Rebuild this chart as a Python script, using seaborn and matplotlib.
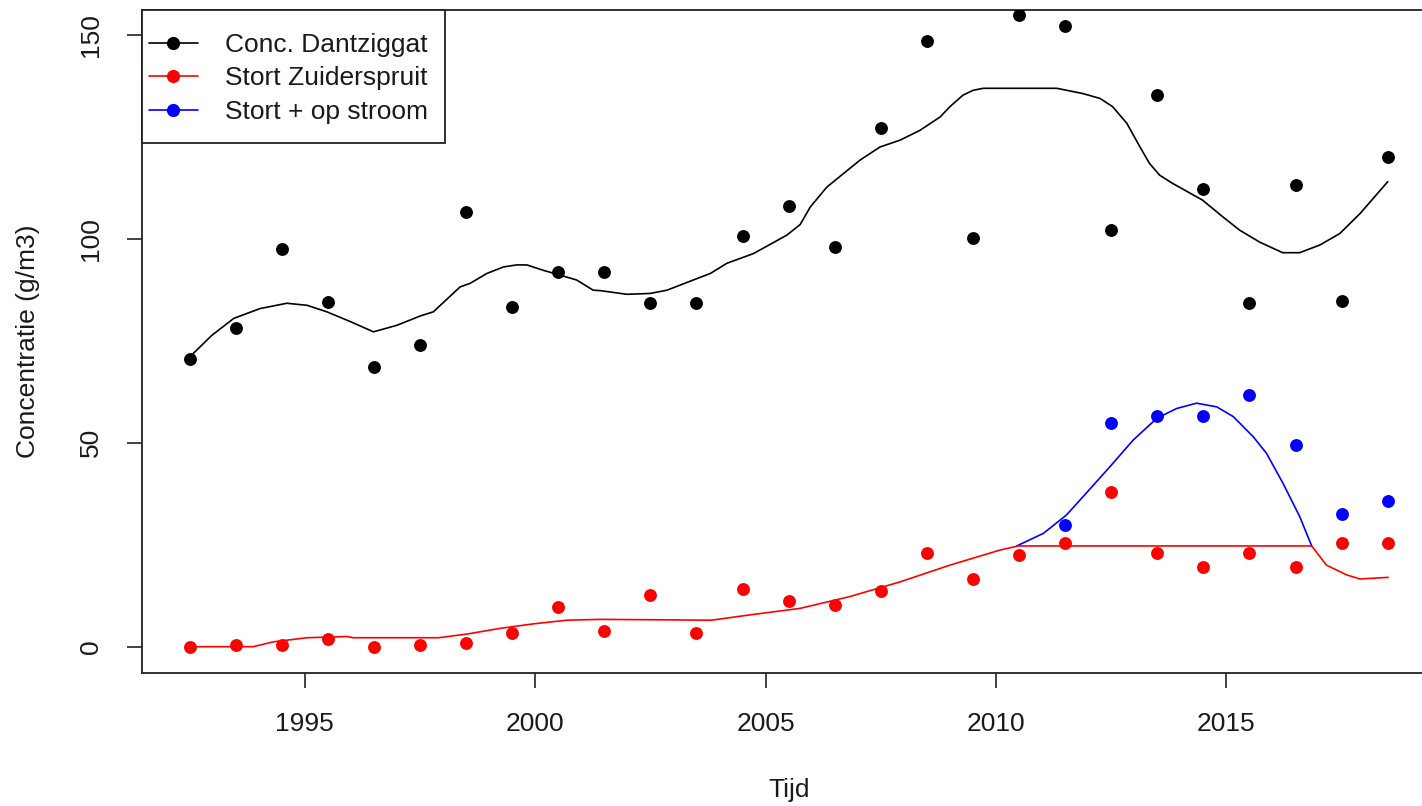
import numpy as np
import pandas as pd
import seaborn as sns
import matplotlib.pyplot as plt
from matplotlib.lines import Line2D
from matplotlib.patches import Rectangle

# ── Measured values ──────────────────────────────────────────────────────────
years = [1992.5, 1993.5, 1994.5, 1995.5, 1996.5, 1997.5, 1998.5, 1999.5,
         2000.5, 2001.5, 2002.5, 2003.5, 2004.5, 2005.5, 2006.5, 2007.5,
         2008.5, 2009.5, 2010.5, 2011.5, 2012.5, 2013.5, 2014.5, 2015.5,
         2016.5, 2017.5, 2018.5]
conc_dantziggat = [70.5, 78.2, 97.4, 84.6, 68.5, 73.9, 106.5, 83.4, 91.9, 91.9,
                   84.2, 84.2, 100.8, 108.0, 97.9, 127.2, 148.4, 100.3, 154.8,
                   152.2, 102.1, 135.2, 112.3, 84.2, 113.2, 84.7, 120.0]
stort_zuiderspruit = [0.0, 0.4, 0.4, 1.8, 0.0, 0.4, 0.8, 3.4, 9.8, 3.8, 12.7,
                      3.4, 14.1, 11.1, 10.2, 13.7, 23.0, 16.6, 22.6, 25.5, 37.9,
                      23.0, 19.6, 23.0, 19.6, 25.5, 25.5]
years_stroom = [2011.5, 2012.5, 2013.5, 2014.5, 2015.5, 2016.5, 2017.5, 2018.5]
stort_op_stroom = [29.9, 54.9, 56.5, 56.5, 61.8, 49.4, 32.5, 35.8]

# ── Smoothed curves ──────────────────────────────────────────────────────────
curve_black_x = [1992.50, 1992.98, 1993.46, 1994.03, 1994.61, 1995.05, 1995.48,
                 1995.99, 1996.49, 1997.00, 1997.51, 1997.79, 1998.37, 1998.59,
                 1998.95, 1999.31, 1999.60, 1999.82, 2000.17, 2000.54, 2000.90,
                 2001.26, 2001.41, 2001.99, 2002.49, 2002.86, 2003.43, 2003.80,
                 2004.16, 2004.74, 2005.46, 2005.75, 2005.97, 2006.33, 2006.69,
                 2007.05, 2007.48, 2007.92, 2008.35, 2008.79, 2009.00, 2009.28,
                 2009.50, 2009.72, 2011.32, 2011.89, 2012.26, 2012.53, 2012.84,
                 2013.12, 2013.33, 2013.55, 2013.83, 2014.48, 2014.92, 2015.29,
                 2015.72, 2016.22, 2016.59, 2017.03, 2017.46, 2017.90, 2018.50]
curve_black_y = [71.0, 76.3, 80.5, 82.9, 84.2, 83.7, 82.1,
                 79.7, 77.2, 78.8, 81.1, 82.1, 88.2, 89.1,
                 91.5, 93.1, 93.6, 93.6, 92.3, 91.1, 89.9,
                 87.4, 87.3, 86.4, 86.6, 87.4, 89.9, 91.5,
                 94.0, 96.4, 100.9, 103.5, 107.8, 112.7, 116.0,
                 119.3, 122.5, 124.2, 126.6, 129.9, 132.4, 135.2,
                 136.4, 136.9, 136.9, 135.6, 134.4, 132.4, 128.3,
                 122.6, 118.5, 115.6, 113.6, 109.5, 105.4, 102.1,
                 99.2, 96.6, 96.6, 98.5, 101.3, 106.2, 114.0]

curve_red_x = [1992.50, 1993.88, 1994.32, 1995.05, 1995.92, 1996.05, 1997.90,
               1998.52, 1999.24, 1999.96, 2000.69, 2001.41, 2003.83, 2004.66,
               2005.75, 2006.83, 2007.92, 2009.00, 2010.09, 2010.48, 2016.85,
               2017.17, 2017.61, 2017.90, 2018.51]
curve_red_y = [0.0, 0.0, 1.2, 2.2, 2.5, 2.2, 2.2,
               3.1, 4.5, 5.6, 6.5, 6.7, 6.5, 7.8,
               9.4, 12.3, 15.9, 20.0, 23.7, 24.7, 24.7,
               20.0, 17.6, 16.6, 17.0]

curve_blue_x = [2010.45, 2011.03, 2011.53, 2011.89, 2012.47, 2012.98, 2013.49,
                2013.92, 2014.35, 2014.79, 2015.15, 2015.58, 2015.87, 2016.23,
                2016.59, 2016.85]
curve_blue_y = [24.7, 27.8, 32.3, 36.8, 44.1, 50.7, 56.0,
                58.4, 59.7, 58.8, 56.4, 51.5, 47.4, 40.0,
                31.9, 24.7]

labels = ["Conc. Dantziggat", "Stort Zuiderspruit", "Stort + op stroom"]
colors = ["#000000", "#FF0000", "#0000FF"]

# ── Style ────────────────────────────────────────────────────────────────────
sns.set_theme(style="ticks")
plt.rcParams['font.family'] = ['Liberation Sans', 'DejaVu Sans']
fs = 19

fig = plt.figure(figsize=(14.22, 8.06), dpi=100)
ax = fig.add_axes([0.0996, 0.1654, 0.910, 0.8222])

dot = dict(s=86, linewidth=0, zorder=3)
sns.scatterplot(x=years, y=conc_dantziggat, color=colors[0], ax=ax, **dot)
sns.scatterplot(x=years, y=stort_zuiderspruit, color=colors[1], ax=ax, **dot)
sns.scatterplot(x=years_stroom, y=stort_op_stroom, color=colors[2], ax=ax, **dot)

line = dict(linewidth=1.2, estimator=None, sort=False, zorder=2)
sns.lineplot(x=curve_black_x, y=curve_black_y, color=colors[0], ax=ax, **line)
sns.lineplot(x=curve_blue_x, y=curve_blue_y, color=colors[2], ax=ax, **line)
sns.lineplot(x=curve_red_x, y=curve_red_y, color=colors[1], ax=ax, **line)

ax.set_xlim(1991.46, 2019.54)
ax.set_ylim(-6.37, 156.1)
ax.set_xticks([1995, 2000, 2005, 2010, 2015])
ax.set_yticks([0, 50, 100, 150])

for sp in ax.spines.values():
    sp.set_color("#222222")
    sp.set_linewidth(1.3)

ax.tick_params(axis="both", direction="out", length=11, width=1.2,
               color="#222222", labelsize=fs, labelcolor="#1a1a1a", pad=17)
for t in ax.get_yticklabels():
    t.set_rotation(90)
    t.set_va("center")

ax.set_xlabel("Tijd", fontsize=fs, color="#1a1a1a")
ax.set_ylabel("Concentratie (g/m3)", fontsize=fs, color="#1a1a1a")
ax.xaxis.set_label_coords(0.5, -0.177)
ax.xaxis.label.set_va("center")
ax.yaxis.set_label_coords(-0.0879, 0.5)
ax.yaxis.label.set_va("center")

# ── Legend: R-style box drawn separately, entries placed inside ─────────────
box = Rectangle((0, 0.7993), 0.2344, 0.2007, transform=ax.transAxes,
                facecolor="white", edgecolor="#222222", linewidth=1.3,
                zorder=4, clip_on=False)
ax.add_patch(box)

handles = [Line2D([0], [0], color=c, lw=1.2, marker="o", markersize=9.5,
                  markeredgewidth=0) for c in colors]
leg = ax.legend(handles, labels, loc="upper left", bbox_to_anchor=(0.0056, 0.9653),
                borderaxespad=0, frameon=False, fontsize=fs, handlelength=1.85,
                handletextpad=1.02, labelspacing=0.36, borderpad=0)
leg.set_zorder(5)
for txt in leg.get_texts():
    txt.set_color("#1a1a1a")

fig.savefig("out.png", dpi=100)
